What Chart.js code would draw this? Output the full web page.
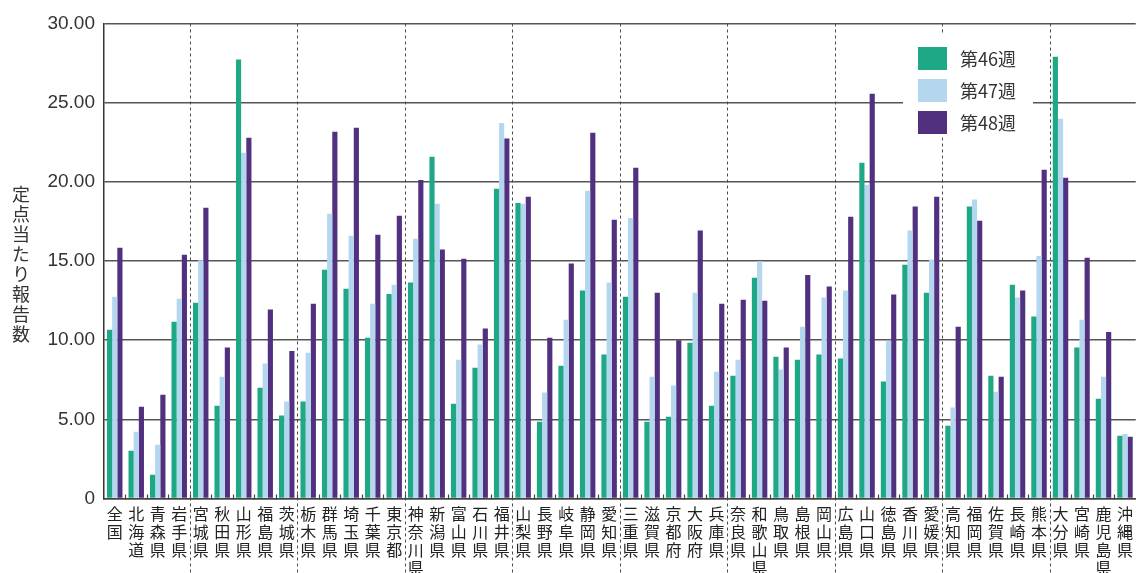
<!DOCTYPE html>
<html>
<head>
<meta charset="utf-8">
<script src="https://cdn.jsdelivr.net/npm/chart.js@4"></script>
<style>
html,body{margin:0;padding:0;background:#fff;overflow:hidden;width:1136px;height:573px;}
#wrap{position:absolute;left:0;top:0;width:1139px;height:573px;}
#ytitle{position:absolute;left:11px;top:185px;font-family:"Noto Sans CJK JP",sans-serif;font-size:18px;line-height:19px;color:#333;writing-mode:vertical-rl;text-orientation:upright;letter-spacing:2px;}
</style>
</head>
<body>
<div id="wrap"><canvas id="c"></canvas></div>
<div id="ytitle">定点当たり報告数</div>
<script>
const categories = ["全国","北海道","青森県","岩手県","宮城県","秋田県","山形県","福島県","茨城県","栃木県","群馬県","埼玉県","千葉県","東京都","神奈川県","新潟県","富山県","石川県","福井県","山梨県","長野県","岐阜県","静岡県","愛知県","三重県","滋賀県","京都府","大阪府","兵庫県","奈良県","和歌山県","鳥取県","島根県","岡山県","広島県","山口県","徳島県","香川県","愛媛県","高知県","福岡県","佐賀県","長崎県","熊本県","大分県","宮崎県","鹿児島県","沖縄県"];
const seriesNames = ["第46週","第47週","第48週"];
const week46 = [10.66,3.02,1.50,11.17,12.37,5.86,27.72,6.99,5.24,6.12,14.45,13.25,10.15,12.92,13.64,21.58,5.98,8.26,19.57,18.67,4.85,8.38,13.13,9.09,12.74,4.85,5.17,9.83,5.86,7.75,13.94,8.95,8.77,9.09,8.84,21.21,7.39,14.77,12.99,4.59,18.44,7.75,13.50,11.49,27.90,9.53,6.30,3.97];
const week47 = [12.74,4.22,3.39,12.62,15.05,7.69,21.83,8.52,6.12,9.21,17.98,16.59,12.30,13.50,16.41,18.62,8.77,9.72,23.72,18.62,6.69,11.29,19.43,13.64,17.72,7.69,7.13,12.99,8.01,8.77,14.98,8.15,10.85,12.69,13.13,19.82,9.97,16.92,15.09,5.75,18.88,6.74,12.69,15.32,23.98,11.29,7.69,4.08];
const week48 = [15.83,5.79,6.55,15.39,18.37,9.53,22.78,11.93,9.32,12.30,23.17,23.42,16.66,17.86,20.12,15.72,15.14,10.73,22.73,19.06,10.15,14.84,23.10,17.61,20.89,12.99,9.99,16.92,12.30,12.55,12.49,9.53,14.12,13.39,17.79,25.57,12.88,18.44,19.06,10.85,17.54,7.69,13.13,20.77,20.26,15.21,10.52,3.90];
const yTicks = [0,5,10,15,20,25,30];
const regionStarts = [4,9,14,19,24,29,34,39,44];

const colors = ["#1ea886","#b5d6ef","#51307f"];

const overlay = {
  id:'overlay',
  afterDraw(chart){
    const ctx = chart.ctx, x = chart.scales.x, ca = chart.chartArea;
    ctx.save();
    ctx.strokeStyle = '#444'; ctx.lineWidth = 1.2;
    for(let i=1;i<categories.length;i++){
      const px = Math.round((x.getPixelForValue(i-1)+x.getPixelForValue(i))/2)+0.5;
      ctx.beginPath(); ctx.moveTo(px, ca.bottom-4); ctx.lineTo(px, ca.bottom+1); ctx.stroke();
    }
    ctx.strokeStyle = '#4a4a4a'; ctx.lineWidth = 1; ctx.setLineDash([3,3]);
    regionStarts.forEach(i=>{
      const px = Math.round((x.getPixelForValue(i-1)+x.getPixelForValue(i))/2)+0.5;
      ctx.beginPath(); ctx.moveTo(px, ca.top); ctx.lineTo(px, chart.height); ctx.stroke();
    });
    ctx.setLineDash([]);
    ctx.fillStyle = '#fff';
    ctx.fillRect(903, 35, 130, 102);
    ctx.font = '18px "Noto Sans CJK JP", sans-serif';
    ctx.textBaseline = 'middle';
    chart.data.datasets.forEach((ds,k)=>{
      const by = 47 + k*32;
      ctx.fillStyle = ds.backgroundColor;
      ctx.fillRect(918, by, 29, 23);
      ctx.fillStyle = '#333';
      ctx.fillText(ds.label, 960, by+12);
    });
    ctx.restore();
  }
};

new Chart(document.getElementById('c'), {
  type:'bar',
  data:{
    labels: categories.map(s=>Array.from(s)),
    datasets:[
      {label:seriesNames[0], data:week46, backgroundColor:colors[0]},
      {label:seriesNames[1], data:week47, backgroundColor:colors[1]},
      {label:seriesNames[2], data:week48, backgroundColor:colors[2]}
    ]
  },
  options:{
    responsive:true, maintainAspectRatio:false, animation:false,
    devicePixelRatio:1,
    layout:{padding:{top:23.5,left:0,right:0,bottom:0}},
    datasets:{bar:{categoryPercentage:0.72, barPercentage:1.0, borderWidth:0}},
    plugins:{legend:{display:false}, tooltip:{enabled:false}},
    scales:{
      x:{
        offset:true,
        grid:{display:false, drawTicks:false},
        border:{display:true, color:'#444', width:1.5},
        ticks:{autoSkip:false, maxRotation:0, minRotation:0, padding:6, color:'#222',
          font:{family:'"Noto Sans CJK JP", sans-serif', size:16, lineHeight:1.14}},
        afterFit(s){ s.height = 74.5; }
      },
      y:{
        min:0, max:30,
        afterBuildTicks(s){ s.ticks = yTicks.map(v=>({value:v})); },
        grid:{color:'#555', lineWidth:1.4, drawTicks:false},
        border:{display:true, color:'#333', width:1.5},
        ticks:{padding:9, color:'#333', font:{family:'"Liberation Sans", Arial, sans-serif', size:19},
          callback:(v)=> v===0 ? '0' : Number(v).toFixed(2)},
        afterFit(s){ s.width = 104; }
      }
    }
  },
  plugins:[overlay]
});
</script>
</body>
</html>
